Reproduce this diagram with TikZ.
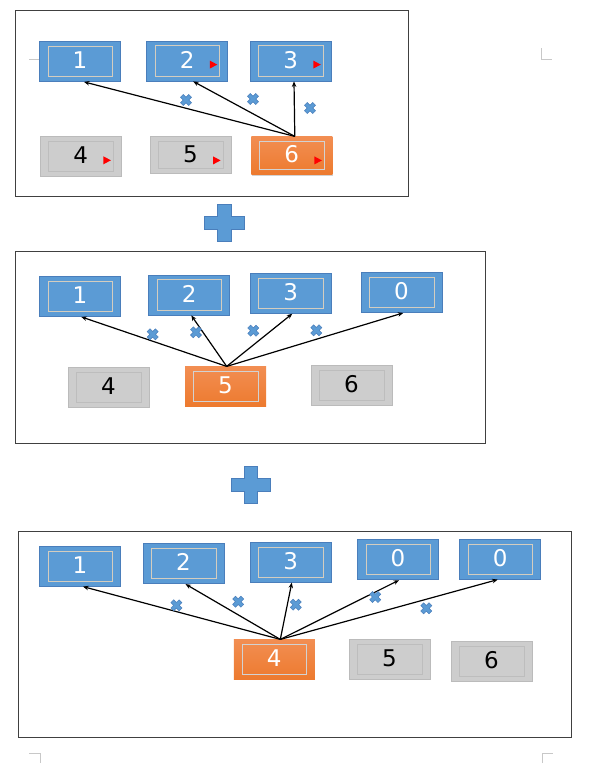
\documentclass[tikz,border=0pt]{standalone}
\usepackage{fontspec}
\setmainfont{DejaVu Sans}
\usetikzlibrary{arrows.meta,shadows}
\definecolor{bluefill}{HTML}{5B9BD5}
\definecolor{blueline}{HTML}{4A7EBB}
\definecolor{innerblue}{HTML}{D4CDBF}
\definecolor{grayfill}{HTML}{CDCDCD}
\definecolor{grayline}{HTML}{BBBBBB}
\definecolor{innergray}{HTML}{BDBDBD}
\definecolor{orangetop}{HTML}{F28E52}
\definecolor{orangebot}{HTML}{ED7A2E}
\definecolor{innerorange}{HTML}{D2D2D2}
\definecolor{framecol}{HTML}{404040}
\definecolor{markcol}{HTML}{C8C8C8}
\tikzset{
  boxbase/.style={rectangle, minimum width=81pt, minimum height=40pt, inner sep=0pt,
    text depth=3pt, font=\fontsize{23}{23}\selectfont, line width=0.8pt},
  inrect/.style={path picture={\draw[line width=0.7pt,#1]
      ([shift={(8.5,4.7)}]path picture bounding box.north west) rectangle
      ([shift={(-8,-5)}]path picture bounding box.south east);}},
  bluebox/.style={boxbase, fill=bluefill, draw=blueline, text=white, inrect=innerblue},
  graybox/.style={boxbase, fill=grayfill, draw=grayline, text=black, inrect=innergray},
  orangebox/.style={boxbase, top color=orangetop, bottom color=orangebot, text=white, inrect=innerorange},
  arr/.style={-{Stealth[length=5.5pt,width=4.5pt]}, line width=1.2pt, black},
  framebox/.style={draw=framecol, line width=0.9pt},
  plusshape/.style={fill=bluefill, draw=blueline, line width=0.6pt},
  cornermark/.style={draw=markcol, line width=0.8pt},
  xmark/.pic={\filldraw[fill=bluefill, draw=blueline, line width=0.5pt, rotate=45]
    (2,2) -- (2,5.8) -- (-2,5.8) -- (-2,2) -- (-5.8,2) -- (-5.8,-2) -- (-2,-2) -- (-2,-5.8)
    -- (2,-5.8) -- (2,-2) -- (5.8,-2) -- (5.8,2) -- cycle;}
}
\newcommand\redtri[1]{\fill[red] ([shift={(-18.3,20)}]#1.north east) -- ++(7.5,4) -- ++(-7.5,4) -- cycle;}
\begin{document}
\begin{tikzpicture}[x=1pt,y=-1pt]
\useasboundingbox (0,0) rectangle (598,777);
% page corner marks
\draw[cornermark] (29.3,59) -- (40,59) -- (40,48);
\draw[cornermark] (541.7,48.3) -- (541.7,59.3) -- (552.3,59.3);
\draw[cornermark] (29,753) -- (40.5,753) -- (40.5,763);
\draw[cornermark] (542,763) -- (542,753) -- (553,753);
% frames
\draw[framebox] (15,10.3) rectangle (408.7,196.7);
\draw[framebox] (15,251.7) rectangle (485.3,443);
\draw[framebox] (18,531.7) rectangle (571,737);
% plus signs
\filldraw[plusshape] (217.3,204) -- (231.3,204) -- (231.3,216.7) -- (244.3,216.7) -- (244.3,229.3)
  -- (231.3,229.3) -- (231.3,241.7) -- (217.3,241.7) -- (217.3,229.3) -- (204.3,229.3)
  -- (204.3,216.7) -- (217.3,216.7) -- cycle;
\filldraw[plusshape] (244.2,466) -- (257.2,466) -- (257.2,478.3) -- (270.7,478.3) -- (270.7,490.9)
  -- (257.2,490.9) -- (257.2,503.3) -- (244.2,503.3) -- (244.2,490.9) -- (231,490.9)
  -- (231,478.3) -- (244.2,478.3) -- cycle;
% ---------- panel 1
\node[bluebox] (a1) at (80,61.5) {1};
\node[bluebox] (a2) at (187.2,61) {2};
\node[bluebox] (a3) at (290.7,61) {3};
\node[graybox] (a4) at (80.8,156.7) {4};
\node[graybox, minimum height=37pt] (a5) at (190.5,155.3) {5};
\node[orangebox, minimum height=38pt, drop shadow={opacity=0.35, shadow xshift=1pt, shadow yshift=-1.5pt}] (a6) at (291.8,155.8) {6};
\redtri{a2}\redtri{a3}\redtri{a4}\redtri{a5}\redtri{a6}
\coordinate (o1) at ([xshift=3pt]a6.north);
\draw[arr] (o1) -- ([xshift=4pt]a1.south);
\draw[arr] (o1) -- ([xshift=6pt]a2.south);
\draw[arr] (o1) -- ([xshift=3.3pt]a3.south);
\pic at (186,100) {xmark};
\pic at (253,99) {xmark};
\pic at (310,108) {xmark};
% ---------- panel 2
\node[bluebox] (b1) at (80,296.5) {1};
\node[bluebox] (b2) at (189.3,295) {2};
\node[bluebox] (b3) at (290.8,293.3) {3};
\node[bluebox] (b0) at (401.5,292.5) {0};
\node[graybox] (b4) at (108.5,387.8) {4};
\node[orangebox] (b5) at (225.5,386.8) {5};
\node[graybox] (b6) at (351.5,385.8) {6};
\coordinate (o2) at ([xshift=1.2pt]b5.north);
\draw[arr] (o2) -- ([xshift=1.3pt]b1.south);
\draw[arr] (o2) -- ([xshift=2pt]b2.south);
\draw[arr] (o2) -- ([xshift=1.5pt]b3.south);
\draw[arr] (o2) -- ([xshift=1.8pt]b0.south);
\pic at (152.7,334.3) {xmark};
\pic at (196,332.3) {xmark};
\pic at (253.3,330.7) {xmark};
\pic at (316.3,330.3) {xmark};
% ---------- panel 3
\node[bluebox] (c1) at (80,566.2) {1};
\node[bluebox] (c2) at (183.5,563.7) {2};
\node[bluebox] (c3) at (290.8,562.2) {3};
\node[bluebox] (c0a) at (398,559.8) {0};
\node[bluebox] (c0b) at (500.3,559.2) {0};
\node[orangebox] (c4) at (274.3,659.8) {4};
\node[graybox] (c5) at (389.5,659.8) {5};
\node[graybox] (c6) at (491.5,661.3) {6};
\coordinate (o3) at ([xshift=6pt]c4.north);
\draw[arr] (o3) -- ([xshift=3pt]c1.south);
\draw[arr] (o3) -- ([xshift=2pt]c2.south);
\draw[arr] (o3) -- ([xshift=1pt]c3.south);
\draw[arr] (o3) -- ([xshift=1pt]c0a.south);
\draw[arr] (o3) -- ([xshift=-2.6pt]c0b.south);
\pic at (176.4,605.3) {xmark};
\pic at (238.2,601.7) {xmark};
\pic at (295.8,604.7) {xmark};
\pic at (375.2,597) {xmark};
\pic at (426.3,608.3) {xmark};
\end{tikzpicture}
\end{document}
